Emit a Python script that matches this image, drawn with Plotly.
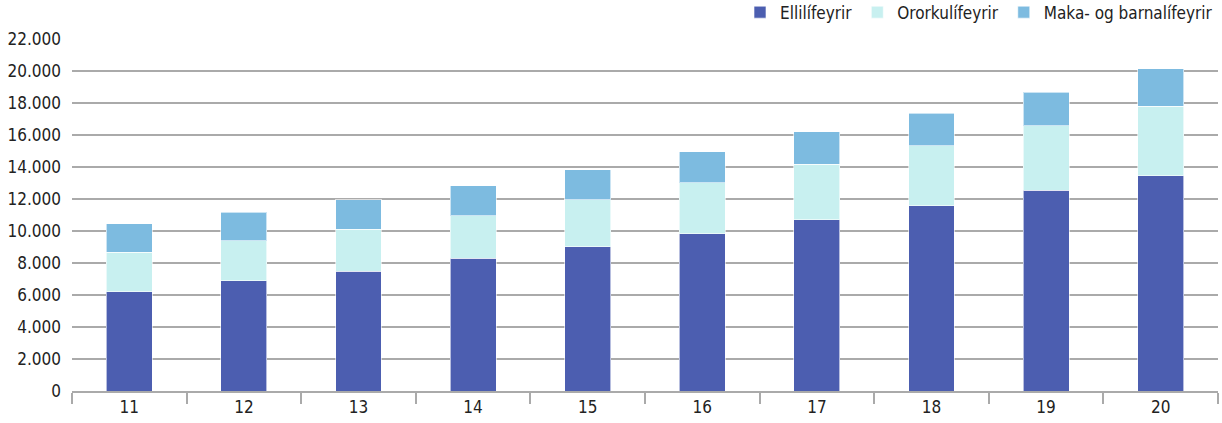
import plotly.graph_objects as go

categories = ["11", "12", "13", "14", "15", "16", "17", "18", "19", "20"]
ellilifeyrir = [6210, 6900, 7480, 8290, 9020, 9840, 10700, 11570, 12550, 13440]
ororkulifeyrir = [2460, 2500, 2630, 2650, 2920, 3170, 3470, 3750, 4020, 4360]
maka_barna = [1770, 1770, 1830, 1890, 1880, 1930, 2020, 2030, 2090, 2330]
y_ticks = [0, 2000, 4000, 6000, 8000, 10000, 12000, 14000, 16000, 18000, 20000, 22000]

FONT = "DejaVu Sans Condensed, Liberation Sans Narrow, Roboto Condensed, sans-serif"

fig = go.Figure()
series = [
    ("Ellilífeyrir", ellilifeyrir, "#4C5EB0"),
    ("Ororkulífeyrir", ororkulifeyrir, "#C8F0F0"),
    ("Maka- og barnalífeyrir", maka_barna, "#7DBBE0"),
]
for name, vals, col in series:
    fig.add_trace(go.Bar(
        x=categories, y=vals, name=name,
        marker=dict(color=col, line=dict(color="rgba(255,255,255,0.6)", width=1)),
    ))

fig.update_layout(
    barmode="stack",
    bargap=0.6,
    width=1222, height=423,
    margin=dict(l=72, r=4, t=39, b=32, autoexpand=False),
    paper_bgcolor="white", plot_bgcolor="white",
    separators=",.",
    font=dict(family=FONT, size=17, color="#222222"),
    legend=dict(
        orientation="h", x=1.0, xanchor="right",
        y=1.075, yanchor="middle",
        font=dict(size=17, color="#222222"),
        traceorder="normal", bgcolor="rgba(0,0,0,0)",
    ),
    showlegend=True,
)
fig.update_xaxes(
    type="category", range=[-0.5, 9.5], automargin=False,
    showline=True, linecolor="#AAAAAA", linewidth=1.5,
    ticks="outside", tickson="boundaries", ticklen=11, tickcolor="#AAAAAA", tickwidth=1.5,
    showgrid=False, tickfont=dict(size=17),
)
fig.update_yaxes(
    range=[0, 22000], tickvals=y_ticks, tickformat=",.0f", automargin=False,
    showgrid=True, gridcolor="#AAAAAA", gridwidth=1.5,
    zeroline=False, showline=False, ticks="", ticklabelstandoff=10,
    tickfont=dict(size=17),
)

fig.write_html(
    "out.html",
    config={"displayModeBar": False},
    post_script="document.body.style.margin='0';document.body.style.overflow='hidden';",
)
